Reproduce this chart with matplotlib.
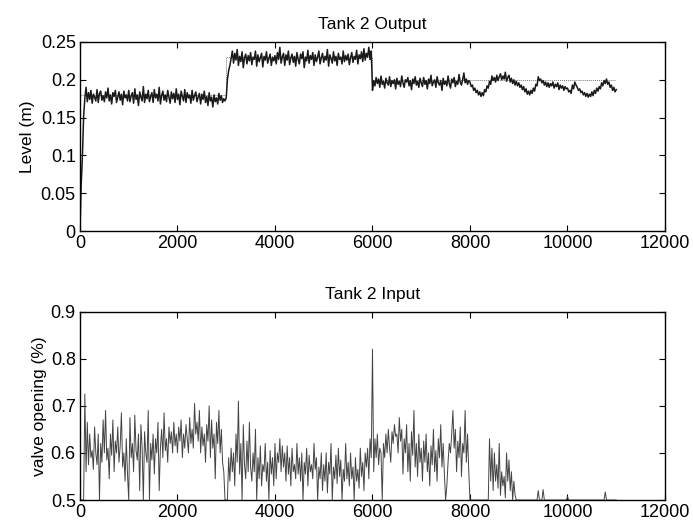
import numpy as np
import matplotlib
matplotlib.use("Agg")
import matplotlib.pyplot as plt

plt.rcParams['font.family'] = ['Liberation Sans', 'DejaVu Sans']

# tank 2 level, mm, one sample every 25 time steps from 0 to 11000
step = 25
level_mm = [
    0, 62, 98, 152, 176, 190, 171, 183, 174, 186, 169, 181, 177, 172, 187, 170, 182, 185, 173, 179,
    171, 184, 176, 189, 172, 180, 168, 183, 178, 186, 170, 177, 184, 173, 181, 167, 185, 176, 180, 172,
    186, 171, 179, 183, 169, 188, 174, 180, 166, 184, 177, 172, 191, 170, 181, 175, 186, 171, 178, 183,
    170, 187, 176, 181, 172, 190, 168, 179, 185, 173, 180, 171, 186, 177, 169, 184, 175, 182, 170, 188,
    174, 181, 167, 185, 178, 172, 187, 170, 183, 176, 180, 169, 186, 173, 179, 184, 171, 177, 182, 168,
    181, 174, 185, 170, 178, 166, 183, 172, 177, 164, 180, 171, 176, 168, 182, 173, 179, 170, 175, 172,
    176, 201, 212, 219, 228, 238, 222, 235, 226, 240, 219, 231, 224, 237, 216, 229, 234, 221, 232, 225,
    236, 220, 230, 227, 238, 218, 233, 224, 229, 235, 217, 231, 226, 237, 222, 228, 234, 219, 230, 225,
    232, 221, 236, 227, 243, 222, 230, 235, 219, 233, 226, 238, 220, 229, 234, 223, 231, 218, 236, 227,
    221, 234, 228, 237, 216, 230, 225, 239, 222, 232, 227, 236, 219, 233, 224, 230, 238, 221, 229, 235,
    223, 231, 226, 240, 218, 233, 228, 222, 237, 225, 231, 219, 235, 227, 230, 221, 238, 224, 232, 226,
    234, 220, 229, 236, 223, 231, 227, 239, 221, 233, 228, 237, 224, 241, 226, 235, 230, 243, 227, 238,
    186, 199, 192, 203, 195, 201, 190, 205, 194, 198, 189, 202, 196, 193, 204, 191, 199, 195, 200, 188,
    202, 194, 198, 191, 205, 196, 190, 200, 197, 203, 192, 199, 187, 201, 195, 204, 193, 198, 190, 202,
    196, 191, 203, 194, 199, 188, 201, 195, 206, 192, 197, 200, 190, 204, 196, 193, 199, 186, 202, 194,
    198, 192, 205, 195, 189, 201, 196, 203, 191, 198, 194, 207, 197, 193, 200, 209, 196, 201, 194, 199,
    197, 191, 193, 186, 189, 183, 186, 180, 184, 178, 183, 179, 187, 184, 192, 189, 198, 194, 205, 199,
    203, 197, 206, 199, 204, 208, 200, 205, 201, 210, 198, 203, 206, 197, 202, 195, 200, 193, 198, 192,
    196, 190, 193, 187, 191, 184, 188, 181, 185, 180, 186, 182, 189, 185, 194, 192, 204, 199, 201, 196,
    199, 193, 197, 191, 196, 190, 195, 192, 197, 189, 194, 191, 196, 187, 193, 189, 192, 186, 191, 188,
    189, 184, 186, 182, 193, 188, 197, 193, 190, 186, 188, 183, 185, 180, 183, 178, 182, 177, 181, 178,
    184, 179, 186, 182, 189, 185, 191, 188, 196, 192, 199, 195, 201, 194, 197, 190, 193, 186, 190, 184,
    187,
]

# setpoint steps
sp_t = [0, 3000, 3000, 6000, 6000, 11000]
sp_level = [0.18, 0.18, 0.23, 0.23, 0.2, 0.2]

# valve opening (x1000), every 25 steps from 0 to 8975
valve_k = [
    500, 500, 500, 500, 725, 560, 665, 575, 640, 590, 605, 565, 655, 600, 575, 640, 500, 620, 580, 670,
    600, 690, 585, 610, 545, 640, 595, 670, 560, 625, 600, 655, 580, 615, 685, 570, 600, 540, 630, 555,
    500, 675, 590, 620, 560, 680, 605, 585, 640, 520, 660, 610, 500, 645, 600, 580, 690, 500, 620, 585,
    640, 555, 630, 600, 665, 520, 610, 650, 590, 685, 605, 630, 580, 655, 620, 645, 600, 665, 615, 640,
    600, 655, 625, 670, 590, 640, 610, 660, 630, 600, 675, 620, 650, 610, 705, 640, 665, 625, 690, 600,
    655, 615, 640, 580, 660, 625, 700, 590, 670, 610, 640, 545, 665, 620, 690, 600, 650, 580, 560, 500,
    500, 500, 590, 540, 610, 560, 600, 530, 640, 580, 710, 555, 620, 500, 660, 575, 545, 625, 560, 665,
    570, 540, 600, 560, 650, 500, 590, 545, 615, 530, 575, 560, 620, 540, 580, 500, 605, 555, 590, 530,
    620, 545, 600, 580, 630, 560, 615, 570, 600, 540, 615, 555, 590, 530, 610, 560, 575, 545, 620, 555,
    590, 540, 600, 500, 580, 555, 610, 530, 595, 560, 575, 545, 620, 565, 590, 500, 570, 545, 600, 520,
    575, 540, 600, 515, 580, 555, 620, 500, 570, 545, 595, 535, 610, 550, 585, 500, 565, 540, 620, 545,
    580, 530, 600, 545, 570, 500, 590, 540, 565, 525, 610, 550, 580, 520, 600, 570, 610, 545, 630, 590,
    820, 560, 630, 590, 640, 575, 610, 600, 500, 620, 590, 640, 600, 650, 610, 580, 645, 620, 660, 635,
    640, 600, 675, 625, 650, 555, 630, 600, 660, 560, 620, 540, 645, 595, 690, 570, 620, 550, 640, 580,
    610, 540, 625, 580, 640, 560, 600, 530, 615, 575, 650, 560, 605, 540, 630, 590, 660, 570, 620, 555,
    500, 530, 580, 620, 600, 640, 690, 610, 650, 560, 625, 590, 655, 550, 620, 600, 690, 580, 640, 560,
    500, 500, 500, 500, 500, 500, 500, 500, 500, 500, 500, 500, 500, 500, 500, 500, 630, 540, 610, 520,
    600, 540, 575, 525, 620, 510, 560, 530, 550, 505, 600, 540, 585, 520, 560, 500, 540, 510, 500, 500,
]
# after 9000 the valve sits at its lower limit apart from a few blips
tail_t = [9000, 9375, 9400, 9425, 9475, 9500, 9525, 9975, 10000, 10025, 10750, 10775, 10800, 11000]
tail_k = [500, 500, 520, 500, 500, 522, 500, 500, 507, 500, 500, 517, 500, 500]

t_level = np.arange(len(level_mm)) * step
level = np.array(level_mm) / 1000.0
t_valve = np.concatenate([np.arange(len(valve_k)) * step, tail_t])
valve = np.concatenate([valve_k, tail_k]) / 1000.0

fig = plt.figure(figsize=(6.93, 5.28), dpi=100)
ax1 = fig.add_axes([0.1154, 0.5625, 0.8442, 0.358])
ax2 = fig.add_axes([0.1154, 0.053, 0.8442, 0.357])

ax1.plot(sp_t, sp_level, color='#777777', lw=0.7, ls=(0, (1, 1)))
ax1.plot(t_level, level, color='#1a1a1a', lw=1.1)
ax1.set_xlim(0, 12000)
ax1.set_ylim(0, 0.25)
ax1.set_yticks([0, 0.05, 0.1, 0.15, 0.2, 0.25])
ax1.set_yticklabels(['0', '0.05', '0.1', '0.15', '0.2', '0.25'])
ax1.set_title('Tank 2 Output', fontsize=12.5, pad=9)
ax1.set_ylabel('Level (m)', fontsize=12.5, labelpad=4)

ax2.plot(t_valve, valve, color='#444444', lw=0.7)
ax2.set_xlim(0, 12000)
ax2.set_ylim(0.5, 0.9)
ax2.set_yticks([0.5, 0.6, 0.7, 0.8, 0.9])
ax2.set_title('Tank 2 Input', fontsize=12.5, pad=9)
ax2.set_ylabel('valve opening (%)', fontsize=12.5, labelpad=3)

for ax in (ax1, ax2):
    ax.set_xticks(range(0, 12001, 2000))
    ax.tick_params(direction='in', top=True, right=True, labelsize=13, length=4, width=0.8, pad=3)
    for s in ax.spines.values():
        s.set_linewidth(1.0)

fig.savefig('out.png', dpi=100)
